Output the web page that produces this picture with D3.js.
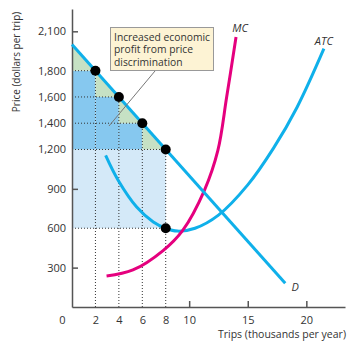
<!DOCTYPE html>
<html>
<head>
<meta charset="utf-8">
<script src="https://cdn.jsdelivr.net/npm/d3@7"></script>
<style>
  html, body { margin: 0; padding: 0; background: #fff; }
  svg { display: block; font-family: "Open Sans", sans-serif; }
</style>
</head>
<body>
<svg id="chart" width="351" height="351"></svg>
<script>
// 数据
const stepQty = [2, 4, 6, 8];
const stepPrice = [1800, 1600, 1400, 1200];
const atcPoint = [8, 600];
const demandLine = [[0, 2000], [18.2, 180]];
const mcCurve = [[2.95, 236], [5.2, 282], [7.8, 432], [9.45, 584], [11.3, 889], [12.45, 1193], [13.2, 1599], [14.0, 2056]];
const atcCurve = [[2.87, 1155], [3.95, 964], [5.52, 762], [6.94, 648], [8, 600], [9, 578], [10.5, 600], [12.5, 700], [15, 930], [17.2, 1210], [19.2, 1520], [21.5, 1968]];
const xTicks = [0, 2, 4, 6, 8, 10, 15, 20];
const xTickMarks = [10, 15, 20];
const yTicks = [300, 600, 900, 1200, 1400, 1600, 1800, 2100];
const yTickMarks = [300, 900, 2100];
const noteLines = ['Increased economic', 'profit from price', 'discrimination'];

const blue = '#0fb0ea';
const magenta = '#e5007e';
const axisColor = '#555';
const textColor = '#333';

const width = 351, height = 351;
const margin = { top: 9, right: 6, bottom: 44, left: 72 };

const svg = d3.select('#chart');

const x = d3.scaleLinear().domain([0, 23.3]).range([margin.left, width - margin.right]);
const y = d3.scaleLinear().domain([0, 2270]).range([height - margin.bottom, margin.top]);

// 需求曲线上的价格
const demandAt = d3.scaleLinear().domain([demandLine[0][0], demandLine[1][0]]).range([demandLine[0][1], demandLine[1][1]]);

// 阴影
const fills = svg.append('g');
const base = stepPrice[stepPrice.length - 1];
fills.append('rect')
  .attr('x', x(0))
  .attr('y', y(base))
  .attr('width', x(atcPoint[0]) - x(0))
  .attr('height', y(atcPoint[1]) - y(base))
  .attr('fill', '#d4e9f8');

stepQty.forEach(function (q, i) {
  let q0 = i == 0 ? 0 : stepQty[i - 1];
  let p = stepPrice[i];
  if (p > base) {
    fills.append('rect')
      .attr('x', x(q0))
      .attr('y', y(p))
      .attr('width', x(q) - x(q0))
      .attr('height', y(base) - y(p))
      .attr('fill', '#86c8ef');
  }
  fills.append('path')
    .attr('fill', '#c6e1c4')
    .attr('d', `M${x(q0)},${y(p)} V${y(demandAt(q0))} L${x(q)},${y(p)} Z`);
});

// 虚线
const dots = svg.append('g')
  .attr('stroke', '#333')
  .attr('stroke-width', 1)
  .attr('stroke-dasharray', '1,2');
stepQty.forEach(function (q, i) {
  dots.append('path').attr('d', `M${x(0)},${y(stepPrice[i])} H${x(q)}`);
  dots.append('path').attr('d', `M${x(q)},${y(0)} V${y(stepPrice[i])}`);
});
dots.append('path').attr('d', `M${x(0)},${y(atcPoint[1])} H${x(atcPoint[0])}`);

// 坐标轴
const xAxis = svg.append('g')
  .attr('transform', `translate(0 ${y(0)})`)
  .attr('font-family', null)
  .call(d3.axisBottom(x).tickValues(xTicks).tickSize(0).tickPadding(9));
xAxis.attr('font-family', null);
xAxis.select('.domain').attr('stroke', axisColor).attr('stroke-width', 1.5);
xAxis.selectAll('text')
  .attr('font-size', 11)
  .attr('fill', textColor)
  .attr('dx', d => d == 0 ? -10 : 0);

svg.append('g')
  .attr('transform', `translate(0 ${y(0)})`)
  .call(d3.axisBottom(x).tickValues(xTickMarks).tickSizeInner(-6).tickSizeOuter(0).tickFormat(''))
  .call(g => g.select('.domain').remove())
  .selectAll('line').attr('stroke', axisColor).attr('stroke-width', 1.5);

const yAxis = svg.append('g')
  .attr('transform', `translate(${x(0)} 0)`)
  .call(d3.axisLeft(y).tickValues(yTicks).tickFormat(d3.format(',')).tickSizeInner(-6).tickSizeOuter(0).tickPadding(6));
yAxis.attr('font-family', null);
yAxis.select('.domain').attr('stroke', axisColor).attr('stroke-width', 1.5);
yAxis.selectAll('.tick line')
  .attr('stroke', axisColor)
  .attr('stroke-width', 1.5)
  .attr('opacity', d => yTickMarks.includes(d) ? 1 : 0);
yAxis.selectAll('text')
  .attr('font-size', 11)
  .attr('fill', textColor);

// 曲线
const line = d3.line().x(d => x(d[0])).y(d => y(d[1])).curve(d3.curveCatmullRom.alpha(0.5));
const curves = svg.append('g').attr('fill', 'none').attr('stroke-width', 3);
curves.append('path').attr('stroke', blue).attr('d', line(atcCurve));
curves.append('path').attr('stroke', magenta).attr('d', line(mcCurve));
curves.append('path').attr('stroke', blue).attr('d', d3.line().x(d => x(d[0])).y(d => y(d[1]))(demandLine));

// 点
const points = stepQty.map((q, i) => [q, stepPrice[i]]).concat([atcPoint]);
svg.append('g').selectAll('circle').data(points).enter()
  .append('circle')
  .attr('cx', d => x(d[0]))
  .attr('cy', d => y(d[1]))
  .attr('r', 5)
  .attr('fill', '#000');

// 曲线标签
const labels = svg.append('g')
  .attr('font-size', 11)
  .attr('font-style', 'italic')
  .attr('fill', textColor)
  .attr('text-anchor', 'middle');
labels.append('text').attr('x', x(mcCurve[mcCurve.length - 1][0]) + 4).attr('y', y(mcCurve[mcCurve.length - 1][1]) - 5).text('MC');
labels.append('text').attr('x', x(atcCurve[atcCurve.length - 1][0])).attr('y', y(atcCurve[atcCurve.length - 1][1]) - 4).text('ATC');
labels.append('text').attr('x', x(demandLine[1][0]) + 10).attr('y', y(demandLine[1][1]) + 8).text('D');

// 注释
const note = svg.append('g');
note.append('line')
  .attr('x1', 155).attr('y1', 71)
  .attr('x2', 109).attr('y2', 126)
  .attr('stroke', '#777')
  .attr('stroke-width', 1);
note.append('rect')
  .attr('x', 110.5).attr('y', 27.5)
  .attr('width', 103).attr('height', 43)
  .attr('fill', '#fdf3d4')
  .attr('stroke', '#999')
  .attr('stroke-width', 1);
note.selectAll('text').data(noteLines).enter()
  .append('text')
  .attr('x', 114)
  .attr('y', (d, i) => 40.5 + i * 12.5)
  .attr('font-size', 10.3)
  .attr('fill', textColor)
  .text(d => d);

// 轴标题
svg.append('text')
  .attr('transform', `translate(20 62) rotate(-90)`)
  .attr('text-anchor', 'middle')
  .attr('font-size', 10)
  .attr('fill', textColor)
  .text('Price (dollars per trip)');
svg.append('text')
  .attr('x', 346)
  .attr('y', 338)
  .attr('text-anchor', 'end')
  .attr('font-size', 10.5)
  .attr('fill', textColor)
  .text('Trips (thousands per year)');
</script>
</body>
</html>
